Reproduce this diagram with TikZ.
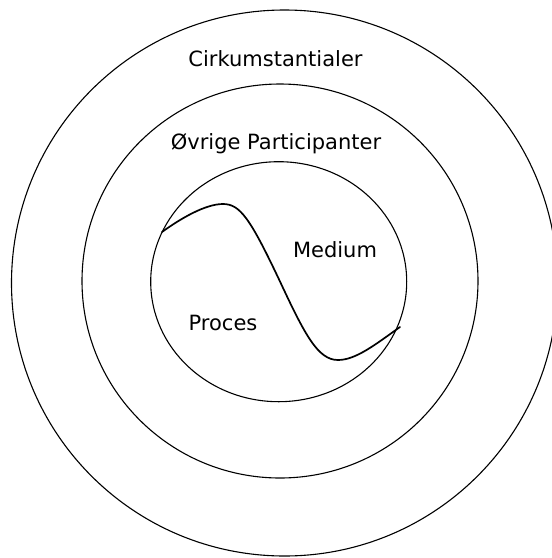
\documentclass[tikz,border=0pt]{standalone}
\usepackage{fontspec}
\setmainfont{DejaVu Sans}
\usetikzlibrary{positioning}

\begin{document}
\begin{tikzpicture}[
  x=1pt, y=-1pt,
  ring/.style={draw=black, line width=1.1pt},
  wave/.style={draw=black, line width=1.7pt, line cap=round, line join=round},
  lbl/.style={anchor=base, inner sep=0pt, font=\fontsize{21}{24}\selectfont, text=black},
]
\useasboundingbox (0,0) rectangle (552,558);
\clip (0,0) rectangle (552,558);

% rings
\coordinate (c) at (280,281.5);
\draw[ring] (284.5,283) circle [radius=273];
\draw[ring] (280,281) ellipse [x radius=198, y radius=197];
\draw[ring] (278.7,281.7) ellipse [x radius=128, y radius=120];

% wave through the inner ring
\coordinate (ws) at (162,232);
\coordinate (we) at (400,327);
\draw[wave] (ws) .. controls (180,219) and (205,204) .. (223,204)
  .. controls (240,204) and (250,218) .. (c)
  .. controls (305,335) and (318,360) .. (338,360)
  .. controls (356,360) and (376,344) .. (we);

\node[lbl] (cirk) at (275.5,66.5) {Cirkumstantialer};
\node[lbl] (part) at (276,149.5) {Øvrige Participanter};
\node[lbl] (medium) at (335,257) {Medium};
\node[lbl] (proces) at (223,330) {Proces};
\end{tikzpicture}
\end{document}
